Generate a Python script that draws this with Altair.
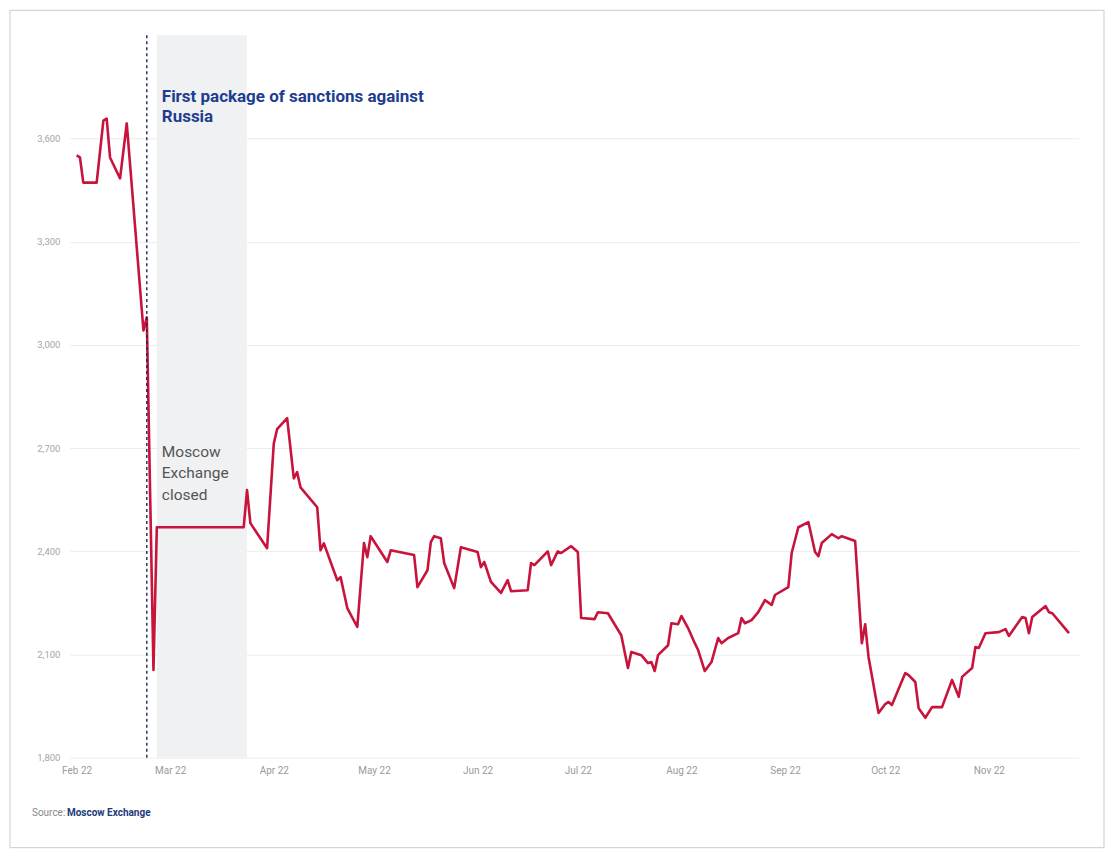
import altair as alt
import pandas as pd

# MOEX index, daily values
dates = [
    "2022-02-01", "2022-02-02", "2022-02-03", "2022-02-07", "2022-02-09", "2022-02-10",
    "2022-02-11", "2022-02-14", "2022-02-16", "2022-02-21", "2022-02-22", "2022-02-24",
    "2022-02-25", "2022-03-23", "2022-03-24", "2022-03-25", "2022-03-30",
    "2022-04-01", "2022-04-02", "2022-04-05", "2022-04-07", "2022-04-08", "2022-04-09",
    "2022-04-14", "2022-04-15", "2022-04-16", "2022-04-20", "2022-04-21", "2022-04-23",
    "2022-04-26", "2022-04-28", "2022-04-29", "2022-04-30",
    "2022-05-05", "2022-05-06", "2022-05-13", "2022-05-14", "2022-05-17", "2022-05-18",
    "2022-05-19", "2022-05-21", "2022-05-22", "2022-05-25", "2022-05-27",
    "2022-06-01", "2022-06-02", "2022-06-03", "2022-06-05", "2022-06-08", "2022-06-10",
    "2022-06-11", "2022-06-16", "2022-06-17", "2022-06-18", "2022-06-22", "2022-06-23",
    "2022-06-25", "2022-06-26", "2022-06-29",
    "2022-07-01", "2022-07-02", "2022-07-06", "2022-07-07", "2022-07-10", "2022-07-14",
    "2022-07-16", "2022-07-17", "2022-07-20", "2022-07-22", "2022-07-23", "2022-07-24",
    "2022-07-25", "2022-07-28", "2022-07-29", "2022-07-31",
    "2022-08-01", "2022-08-03", "2022-08-05", "2022-08-06", "2022-08-08", "2022-08-10",
    "2022-08-12", "2022-08-13", "2022-08-15", "2022-08-18", "2022-08-19", "2022-08-20",
    "2022-08-22", "2022-08-24", "2022-08-26", "2022-08-28", "2022-08-29",
    "2022-09-02", "2022-09-03", "2022-09-05", "2022-09-08", "2022-09-10", "2022-09-11",
    "2022-09-12", "2022-09-15", "2022-09-17", "2022-09-18", "2022-09-22", "2022-09-24",
    "2022-09-25", "2022-09-26", "2022-09-29",
    "2022-10-01", "2022-10-02", "2022-10-03", "2022-10-07", "2022-10-08", "2022-10-10",
    "2022-10-11", "2022-10-13", "2022-10-15", "2022-10-18", "2022-10-21", "2022-10-23",
    "2022-10-24", "2022-10-27", "2022-10-28", "2022-10-29", "2022-10-31",
    "2022-11-04", "2022-11-06", "2022-11-07", "2022-11-11", "2022-11-12", "2022-11-13",
    "2022-11-14", "2022-11-18", "2022-11-19", "2022-11-20", "2022-11-25",
]
values = [
    3551, 3545, 3472, 3472, 3652, 3658,
    3545, 3484, 3644, 3042, 3080, 2055,
    2470, 2470, 2578, 2482, 2409,
    2713, 2755, 2787, 2612, 2630, 2586,
    2528, 2403, 2423, 2316, 2325, 2235,
    2180, 2424, 2383, 2444,
    2369, 2403, 2389, 2296, 2345, 2427,
    2444, 2438, 2366, 2293, 2412,
    2398, 2354, 2369, 2311, 2279, 2316,
    2284, 2287, 2366, 2360, 2400, 2360,
    2400, 2395, 2415,
    2398, 2206, 2203, 2223, 2220, 2156,
    2061, 2107, 2098, 2075, 2078, 2052,
    2098, 2127, 2191, 2188,
    2212, 2177, 2133, 2113, 2052, 2078,
    2148, 2133, 2148, 2162, 2206, 2191,
    2200, 2223, 2258, 2244, 2273,
    2296, 2395, 2470, 2485, 2398, 2386,
    2424, 2450, 2438, 2444, 2430, 2133,
    2188, 2093, 1930,
    1956, 1962, 1953, 2046, 2040, 2020,
    1944, 1916, 1947, 1947, 2026, 1977,
    2035, 2061, 2122, 2119, 2162,
    2165, 2174, 2154, 2209, 2206, 2162,
    2209, 2241, 2223, 2220, 2162,
]

y_ticks = [1800, 2100, 2400, 2700, 3000, 3300, 3600]
month_ticks = list(range(2, 12))
sanctions_date = ["2022-02-22"]
closed_start = ["2022-02-25"]
closed_end = ["2022-03-24"]

FONT = "Roboto"
RED = "#c8143c"
NAVY = "#1d3d8f"

df = pd.DataFrame({"date": dates, "value": values})

x_scale = alt.Scale(
    type="utc",
    domain=[alt.DateTime(year=2022, month=1, date=30, utc=True),
            alt.DateTime(year=2022, month=11, date=28, utc=True)],
)
y_scale = alt.Scale(domain=[1800, 3900], nice=False, zero=False)

x_axis = alt.Axis(
    title=None, format="%b %y",
    values=[alt.DateTime(year=2022, month=m, date=1, utc=True) for m in month_ticks],
    grid=False, ticks=False, domain=False, labelPadding=8,
    labelColor="#9a9a9a", labelFontSize=10, labelFont=FONT,
)
y_axis = alt.Axis(
    title=None, values=y_ticks, labelExpr="format(datum.value, ',')",
    grid=True, gridColor="#ececec",
    ticks=False, domain=False, labelPadding=10, labelColor="#a5a5a5",
    labelFontSize=9.5, labelFont=FONT,
)

frame = alt.Chart(pd.DataFrame({"k": [0]})).mark_rect(
    fill="transparent", stroke="#cfd6db", strokeWidth=1.2
).encode(
    x=alt.value(-60), x2=alt.value(1035), y=alt.value(-25), y2=alt.value(813)
)

shade = alt.Chart(pd.DataFrame({"start": closed_start, "end": closed_end})).mark_rect(
    color="#f0f1f3"
).encode(
    x=alt.X("start:T", scale=x_scale, axis=x_axis),
    x2="end:T",
    y=alt.value(0), y2=alt.value(723),
)

line = alt.Chart(df).mark_line(color=RED, strokeWidth=2.6, strokeJoin="round").encode(
    x=alt.X("date:T", scale=x_scale, axis=x_axis),
    y=alt.Y("value:Q", scale=y_scale, axis=y_axis),
)

rule = alt.Chart(pd.DataFrame({"d": sanctions_date})).mark_rule(
    color="#1a2a4d", strokeDash=[3, 3], strokeWidth=1.4
).encode(
    x=alt.X("d:T", scale=x_scale),
    y=alt.value(0), y2=alt.value(723),
)

title_txt = alt.Chart(pd.DataFrame({"d": closed_start})).mark_text(
    text=["First package of sanctions against", "Russia"],
    align="left", baseline="middle", dx=5, lineHeight=20,
    font=FONT, fontSize=17, fontWeight="bold", color=NAVY,
).encode(x=alt.X("d:T", scale=x_scale), y=alt.value(62))

closed_txt = alt.Chart(pd.DataFrame({"d": closed_start})).mark_text(
    text=["Moscow", "Exchange", "closed"],
    align="left", baseline="middle", dx=5, lineHeight=21.5,
    font=FONT, fontSize=15.5, color="#555555",
).encode(x=alt.X("d:T", scale=x_scale), y=alt.value(417))

src1 = alt.Chart(pd.DataFrame({"k": [0]})).mark_text(
    text="Source:", align="left", baseline="middle",
    font=FONT, fontSize=10, color="#8a8a8a",
).encode(x=alt.value(-38), y=alt.value(778))

src2 = alt.Chart(pd.DataFrame({"k": [0]})).mark_text(
    text="Moscow Exchange", align="left", baseline="middle",
    font=FONT, fontSize=10, fontWeight="bold", color="#1d3a7a",
).encode(x=alt.value(-3), y=alt.value(778))

chart = alt.layer(
    frame, shade, line, rule, title_txt, closed_txt, src1, src2
).properties(
    width=1010, height=723,
    autosize=alt.AutoSizeParams(type="none"),
    padding={"left": 62, "top": 27, "right": 30, "bottom": 92},
    background="white",
).configure_view(stroke=None)

chart.save("out.html", embed_options={"renderer": "svg", "actions": False})
